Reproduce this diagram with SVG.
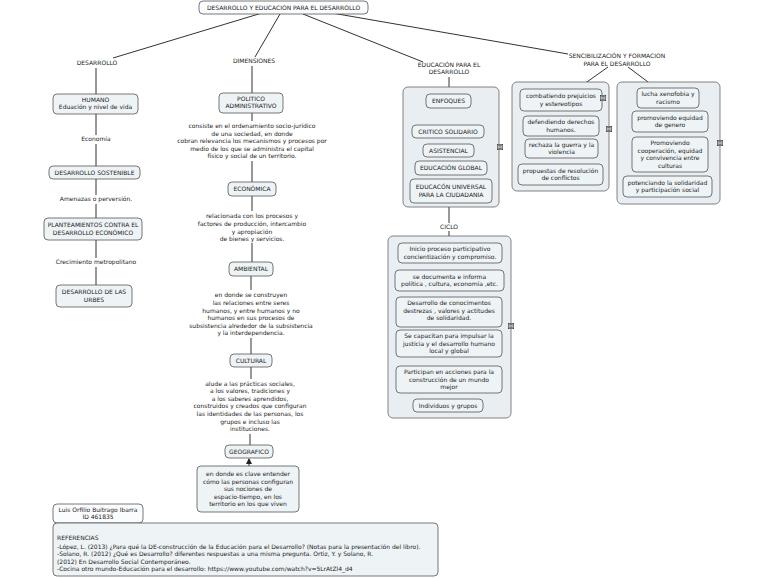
<svg xmlns="http://www.w3.org/2000/svg" width="768" height="578" viewBox="0 0 768 578">
<defs>
<style>
text{font-family:"DejaVu Sans",Verdana,sans-serif;font-size:6px;fill:#222;text-anchor:middle}
.n{fill:#eef3f6;stroke:#555;stroke-width:0.8}
.c{fill:#e8eef2;stroke:#666;stroke-width:0.8}
.w{fill:#fbfcfd;stroke:#555;stroke-width:0.8}
.l{stroke:#333;stroke-width:1;fill:none}
.s{text-anchor:start}
</style>
<symbol id="ic" viewBox="0 0 6 6"><rect x="0.3" y="0.3" width="5.4" height="5.4" fill="#fff" stroke="#222" stroke-width="0.6"/><path d="M1.2 1.6h3.6M1.2 3h3.6M1.2 4.4h3.6" stroke="#222" stroke-width="0.7"/></symbol>
<marker id="ah" viewBox="0 0 6 6" refX="5" refY="3" markerWidth="6" markerHeight="6" orient="auto" markerUnits="userSpaceOnUse"><path d="M0 0L6 3L0 6z" fill="#222"/></marker>
</defs>
<rect width="768" height="578" fill="#fff"/>

<g id="connectors">
<line class="l" x1="262" y1="13" x2="113" y2="58"/>
<line class="l" x1="280" y1="14" x2="255" y2="57"/>
<line class="l" x1="303" y1="14" x2="423" y2="62"/>
<line class="l" x1="332" y1="13" x2="568" y2="54"/>
<path class="l" d="M96 68V94M96 114V135M96 144V166M96 179V195M96 204V218M96 240V258M96 267V285"/>
<path class="l" d="M252 66V93M252 113V121M252 161V182M252 196V211M252 243V262M251 276V290M251 338V354M251 367V379M250 434V445"/>
<line class="l" x1="249" y1="466" x2="249" y2="459" marker-end="url(#ah)"/>
<path class="l" d="M449 77V94M449 207V223M449 231V236"/>
<line class="l" x1="608" y1="67" x2="577" y2="89"/>
<line class="l" x1="628" y1="67" x2="656" y2="88"/>
</g>

<g id="root"><rect class="w" x="199" y="1" width="169" height="13" rx="4"/><text x="283.5" y="10">DESARROLLO Y EDUCACION PARA EL DESARROLLO</text></g>

<g id="desarrollo"><text x="97" y="65">DESARROLLO</text></g>
<g id="dimensiones"><text x="254" y="63">DIMENSIONES</text></g>
<g id="educacion"><text x="449" y="67">EDUCACIÓN PARA EL</text><text x="449" y="74">DESARROLLO</text></g>
<g id="sencibilizacion"><text x="617" y="58">SENCIBILIZACIÓN Y FORMACION</text><text x="617" y="66">PARA EL DESARROLLO</text></g>

<g id="humano"><rect class="n" x="53" y="94" width="85" height="20" rx="4"/><text x="95.5" y="101.5">HUMANO</text><text x="95.5" y="109">Eduación y nivel de vida</text></g>
<g id="economia-l"><text x="96" y="141">Economía</text></g>
<g id="sostenible"><rect class="n" x="49" y="166" width="91" height="13" rx="4"/><text x="94.5" y="174.5">DESARROLLO SOSTENIBLE</text></g>
<g id="amenazas"><text x="96" y="201">Amenazas o perversión.</text></g>
<g id="planteamientos"><rect class="n" x="44" y="218" width="98" height="22" rx="4"/><text x="93" y="226.5">PLANTEAMIENTOS CONTRA EL</text><text x="93" y="234.5">DESARROLLO ECONÓMICO</text></g>
<g id="crecimiento"><text x="96" y="264">Crecimiento metropolitano</text></g>
<g id="urbes"><rect class="n" x="56" y="285" width="76" height="22" rx="4"/><text x="94" y="293.5">DESARROLLO DE LAS</text><text x="94" y="301.5">URBES</text></g>

<g id="politico"><rect class="n" x="219" y="93" width="64" height="20" rx="4"/><text x="251" y="100.5">POLITICO</text><text x="251" y="108">ADMINISTRATIVO</text></g>
<g id="politico-txt"><text x="252" y="128">consiste en el ordenamiento socio-jurídico</text><text x="252" y="135.5">de una sociedad, en donde</text><text x="252" y="143">cobran relevancia los mecanismos y procesos por</text><text x="252" y="150.5">medio de los que se administra el capital</text><text x="252" y="158">físico y social de un territorio.</text></g>
<g id="economica"><rect class="n" x="228" y="182" width="48" height="14" rx="4"/><text x="252" y="191">ECONÓMICA</text></g>
<g id="economica-txt"><text x="252" y="218">relacionada con los procesos y</text><text x="252" y="226">factores de producción, intercambio</text><text x="252" y="234">y apropiación</text><text x="252" y="241">de bienes y servicios.</text></g>
<g id="ambiental"><rect class="n" x="229" y="262" width="44" height="14" rx="4"/><text x="251" y="271">AMBIENTAL</text></g>
<g id="ambiental-txt"><text x="251" y="297">en donde se construyen</text><text x="251" y="305">las relaciones entre seres</text><text x="251" y="313">humanos, y entre humanos y no</text><text x="251" y="320">humanos en sus procesos de</text><text x="251" y="328">subsistencia alrededor de la subsistencia</text><text x="251" y="335">y la interdependencia.</text></g>
<g id="cultural"><rect class="n" x="230" y="354" width="42" height="13" rx="4"/><text x="251" y="362.5">CULTURAL</text></g>
<g id="cultural-txt"><text x="250" y="386">alude a las prácticas sociales,</text><text x="250" y="393">a los valores, tradiciones y</text><text x="250" y="401">a los saberes aprendidos,</text><text x="250" y="408">construidos y creados que configuran</text><text x="250" y="416">las identidades de las personas, los</text><text x="250" y="424">grupos e incluso las</text><text x="250" y="431">instituciones.</text></g>
<g id="geografico"><rect class="n" x="225" y="445" width="48" height="13" rx="4"/><text x="249" y="453.5">GEOGRAFICO</text></g>
<g id="geografico-txt"><rect class="n" x="197" y="466" width="102" height="46" rx="4"/><text x="248" y="476">en donde es clave entender</text><text x="248" y="484">cómo las personas configuran</text><text x="248" y="491">sus nociones de</text><text x="248" y="499">espacio-tiempo, en los</text><text x="248" y="506">territorio en los que viven</text></g>

<g id="enfoques-grp"><rect class="c" x="403" y="87" width="96" height="120" rx="5"/><use href="#ic" x="497" y="144" width="6" height="6"/></g>
<g id="enfoques"><rect class="n" x="426" y="94" width="45" height="14" rx="4"/><text x="448.5" y="103">ENFOQUES</text></g>
<g id="critico"><rect class="n" x="412" y="125" width="72" height="13" rx="4"/><text x="448" y="133.5">CRITICO SOLIDARIO</text></g>
<g id="asistencial"><rect class="n" x="423" y="144" width="51" height="13" rx="4"/><text x="448.5" y="152.5">ASISTENCIAL</text></g>
<g id="global"><rect class="n" x="415" y="161" width="72" height="14" rx="4"/><text x="451" y="170">EDUCACIÓN GLOBAL</text></g>
<g id="universal"><rect class="n" x="410" y="179" width="82" height="24" rx="4"/><text x="451" y="188.5">EDUCACÓN UNIVERSAL</text><text x="451" y="196.5">PARA LA CIUDADANIA</text></g>

<g id="ciclo"><text x="449" y="229">CICLO</text></g>
<g id="ciclo-grp"><rect class="c" x="388" y="236" width="123" height="182" rx="5"/><use href="#ic" x="508" y="323" width="6" height="6"/></g>
<g id="c1"><rect class="n" x="398" y="243" width="104" height="20" rx="4"/><text x="450" y="251">Inicio proceso participativo</text><text x="450" y="258.5">concientización y compromiso.</text></g>
<g id="c2"><rect class="n" x="395" y="270" width="109" height="21" rx="4"/><text x="449.5" y="278.5">se documenta e informa</text><text x="449.5" y="286">política , cultura, economía ,etc.</text></g>
<g id="c3"><rect class="n" x="396" y="297" width="106" height="30" rx="4"/><text x="449" y="305">Desarrollo de conocimentos</text><text x="449" y="312.5">destrezas , valores y actitudes</text><text x="449" y="320">de solidaridad.</text></g>
<g id="c4"><rect class="n" x="396" y="330" width="106" height="27" rx="4"/><text x="449" y="338">Se capacitan para impulsar la</text><text x="449" y="345.5">justicia y el desarrollo humano</text><text x="449" y="353">local y global</text></g>
<g id="c5"><rect class="n" x="396" y="366" width="106" height="27" rx="4"/><text x="449" y="374">Participan en acciones para la</text><text x="449" y="381.5">construcción de un mundo</text><text x="449" y="389">mejor</text></g>
<g id="c6"><rect class="n" x="413" y="399" width="70" height="13" rx="4"/><text x="448" y="407.5">Individuos y grupos</text></g>

<g id="grpA"><rect class="c" x="512" y="82" width="97" height="109" rx="5"/><use href="#ic" x="606" y="126" width="6" height="6"/></g>
<g id="a1"><rect class="n" x="520" y="89" width="82" height="22" rx="4"/><text x="561" y="98">combatiendo prejuicios</text><text x="561" y="105.5">y estereotipos</text><use href="#ic" x="600" y="95" width="6" height="6"/></g>
<g id="a2"><rect class="n" x="523" y="116" width="76" height="20" rx="4"/><text x="561" y="124">defendiendo derechos</text><text x="561" y="131.5">humanos.</text></g>
<g id="a3"><rect class="n" x="525" y="139" width="73" height="19" rx="4"/><text x="561.5" y="146.5">rechaza la guerra y la</text><text x="561.5" y="154">violencia</text></g>
<g id="a4"><rect class="n" x="518" y="164" width="85" height="21" rx="4"/><text x="560.5" y="172.5">propuestas de resolución</text><text x="560.5" y="180">de conflictos</text></g>

<g id="grpB"><rect class="c" x="617" y="82" width="103" height="122" rx="5"/><use href="#ic" x="717" y="140" width="6" height="6"/></g>
<g id="b1"><rect class="n" x="637" y="88" width="62" height="20" rx="4"/><text x="668" y="96">lucha xenofobia y</text><text x="668" y="103.5">racismo</text></g>
<g id="b2"><rect class="n" x="632" y="111" width="76" height="21" rx="4"/><text x="670" y="119.5">promoviendo equidad</text><text x="670" y="127">de genero</text></g>
<g id="b3"><rect class="n" x="632" y="137" width="76" height="35" rx="4"/><text x="670" y="145">Promoviendo</text><text x="670" y="152.5">cooperación, equidad</text><text x="670" y="160">y convivencia entre</text><text x="670" y="167.5">culturas</text></g>
<g id="b4"><rect class="n" x="623" y="176" width="89" height="21" rx="4"/><text x="667.5" y="184.5">potenciando la solidaridad</text><text x="667.5" y="192">y participación social</text></g>

<g id="author"><rect class="w" x="53" y="504" width="90" height="19" rx="4"/><text x="98" y="511.5">Luis Orfilio Buitrago Ibarra</text><text x="98" y="519">ID 461835</text></g>
<g id="refs"><rect class="n" x="53" y="523" width="385" height="53" rx="4"/>
<text class="s" x="57" y="540">REFERENCIAS</text>
<text class="s" x="57" y="549">-López, L. (2013) ¿Para qué la DE-construcción de la Educación para el Desarrollo? (Notas para la presentación del libro).</text>
<text class="s" x="57" y="556">-Solano, R. (2012) ¿Qué es Desarrollo? diferentes respuestas a una misma pregunta. Ortiz, Y. y Solano, R.</text>
<text class="s" x="57" y="564">(2012) En Desarrollo Social Contemporáneo.</text>
<text class="s" x="57" y="571">-Cocina otro mundo-Educación para el desarrollo: https://www.youtube.com/watch?v=5LrAtZl4_d4</text>
</g>
</svg>
